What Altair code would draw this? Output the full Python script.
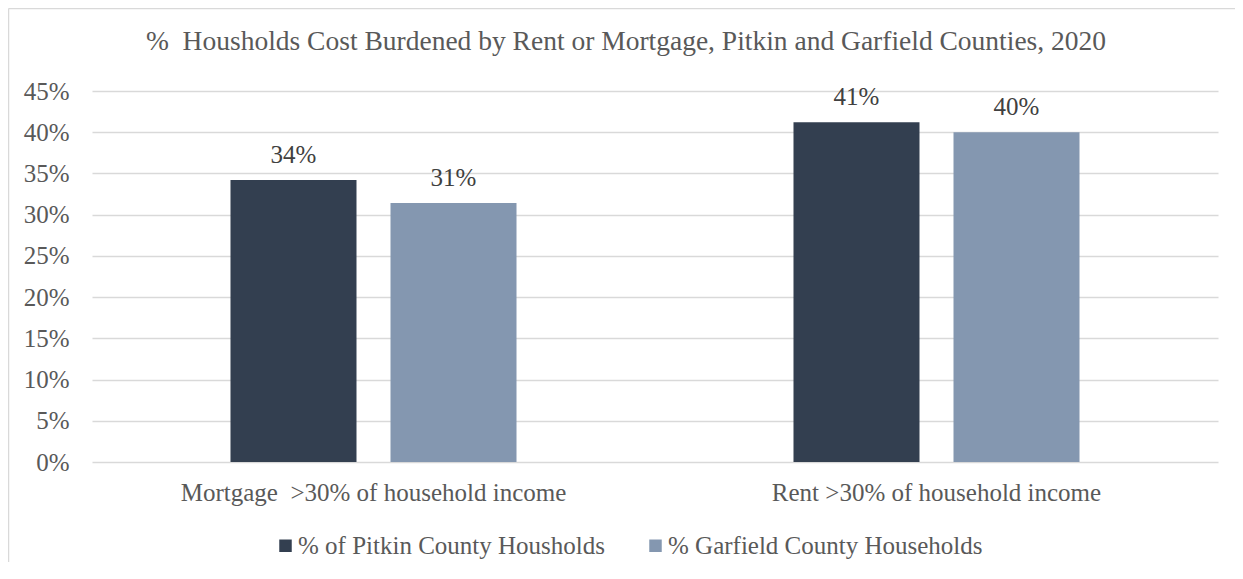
import altair as alt
import pandas as pd

categories = ["Mortgage\u00a0 >30% of household income", "Rent >30% of household income"]
series = ["% of Pitkin County Housholds", "% Garfield County Households"]
pitkin = [0.342, 0.412]
garfield = [0.314, 0.400]
colors = ["#333f50", "#8497b0"]
y_ticks = [0, 0.05, 0.10, 0.15, 0.20, 0.25, 0.30, 0.35, 0.40, 0.45]
title_text = "%\u00a0 Housholds Cost Burdened by Rent or Mortgage, Pitkin and Garfield Counties, 2020"

rows = []
for i, c in enumerate(categories):
    rows.append({"category": c, "series": series[0], "value": pitkin[i]})
    rows.append({"category": c, "series": series[1], "value": garfield[i]})
df = pd.DataFrame(rows)

FONT = "Liberation Serif"
TXT = "#595959"
W, H = 1126, 371

x = alt.X("category:N", sort=categories, title=None,
          scale=alt.Scale(paddingInner=0, paddingOuter=0),
          axis=alt.Axis(labelAngle=0, labelFont=FONT, labelFontSize=25, labelColor=TXT,
                        labelPadding=18, ticks=False, domain=False, labelLimit=600))
xo = alt.XOffset("series:N", sort=series,
                 scale=alt.Scale(paddingInner=0.2125, paddingOuter=0.8655))
y = alt.Y("value:Q", title=None,
          scale=alt.Scale(domain=[0, 0.45], nice=False),
          axis=alt.Axis(values=y_ticks, format=".0%", labelFont=FONT, labelFontSize=25,
                        labelColor=TXT, labelPadding=23, ticks=False, domain=False,
                        grid=True, gridColor="#d9d9d9", gridWidth=1.5))

base = alt.Chart(df)

bars = base.mark_bar().encode(
    x=x, xOffset=xo, y=y,
    color=alt.Color("series:N", sort=series,
                    scale=alt.Scale(domain=series, range=colors),
                    legend=alt.Legend(title=None, orient="none", legendX=181, legendY=442,
                                      direction="horizontal", symbolType="square",
                                      symbolSize=156, symbolStrokeWidth=0,
                                      labelFont=FONT, labelFontSize=25, labelColor=TXT,
                                      labelOffset=0, columnPadding=38, labelLimit=600,
                                      padding=0)),
)

labels = base.mark_text(font=FONT, fontSize=25, color="#404040", baseline="alphabetic",
                        dy=-17).encode(
    x=x, xOffset=xo, y=y,
    text=alt.Text("value:Q", format=".0%"),
)

border_top = alt.Chart(pd.DataFrame({"k": [0]})).mark_rule(color="#d9d9d9", strokeWidth=1.5).encode(
    x=alt.value(-83.5), x2=alt.value(W + 17), y=alt.value(-82.5))
border_left = alt.Chart(pd.DataFrame({"k": [0]})).mark_rule(color="#d9d9d9", strokeWidth=1.5).encode(
    x=alt.value(-83.5), y=alt.value(-82.5), y2=alt.value(H + 100))

chart = alt.layer(border_top, border_left, bars, labels).properties(
    width=W, height=H,
    autosize=alt.AutoSizeParams(type="none"),
    padding={"left": 84, "top": 83, "right": 17, "bottom": 100},
    title=alt.TitleParams(title_text, font=FONT, fontSize=27.5, fontWeight="normal",
                          color=TXT, anchor="middle", dx=-29, dy=84, offset=36),
).configure_view(stroke=None).configure_axis(labelFontWeight="normal")

chart.save("out.html", embed_options={"renderer": "svg", "actions": False})
